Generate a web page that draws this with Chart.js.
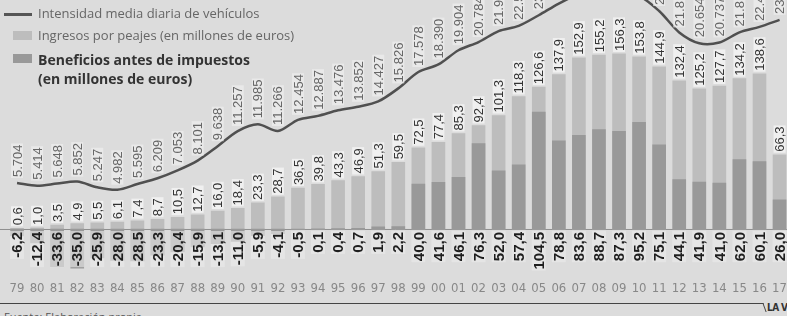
<!DOCTYPE html>
<html>
<head>
<meta charset="utf-8">
<script src="https://cdn.jsdelivr.net/npm/chart.js@4"></script>
<style>
  html, body { margin: 0; padding: 0; width: 787px; height: 316px; overflow: hidden; background: #dcdcdc; }
  #wrap { position: absolute; left: 0; top: 0; width: 791px; height: 300px; }
  .legend { position: absolute; left: 0; top: 0; font-family: "Open Sans", sans-serif; font-size: 13px; color: #666; }
  .legend div { position: absolute; white-space: nowrap; }
  .sw { position: absolute; }
  #footer-line { position: absolute; left: 0; top: 303px; width: 763px; height: 1px; background: #444; }
  #hook { position: absolute; left: 760px; top: 303px; width: 4px; height: 8px; border-top: 1px solid #444; border-right: 1px solid #444; transform: skewX(20deg); }
  #lavoz { position: absolute; left: 767px; top: 302px; font-family: "DejaVu Sans Condensed", sans-serif; font-weight: bold; font-size: 10px; letter-spacing: -0.6px; color: #333; white-space: nowrap; }
  #fuente { position: absolute; left: 4px; top: 309px; font-family: "Open Sans", sans-serif; font-size: 11px; color: #555; white-space: nowrap; }
</style>
</head>
<body>
<div id="wrap"><canvas id="chart"></canvas></div>

<div class="legend">
  <div class="sw" style="left:4px; top:13px; width:28px; height:3px; background:#555;"></div>
  <div style="left:38px; top:4px;">Intensidad media diaria de vehículos</div>
  <div class="sw" style="left:13px; top:31px; width:19px; height:9px; background:#bdbdbd;"></div>
  <div style="left:38px; top:26px;">Ingresos por peajes (en millones de euros)</div>
  <div class="sw" style="left:13px; top:54px; width:19px; height:9px; background:#999;"></div>
  <div style="left:38px; top:50px; font-weight:bold; color:#333; font-size:14px; line-height:19px;">Beneficios antes de impuestos<br>(en millones de euros)</div>
</div>

<div id="footer-line"></div>
<div id="hook"></div>
<div id="lavoz">LA VOZ</div>
<div id="fuente">Fuente: Elaboración propia</div>

<script>
const years = ["79", "80", "81", "82", "83", "84", "85", "86", "87", "88", "89", "90", "91", "92", "93",
    "94", "95", "96", "97", "98", "99", "00", "01", "02", "03", "04", "05", "06", "07", "08", "09",
    "10", "11", "12", "13", "14", "15", "16", "17"];

// intensidad media diaria (vehiculos); 2006-2011 se salen por arriba del recorte, estimados
const intensidad = [5704, 5414, 5648, 5852, 5247, 4982, 5595, 6209, 7053, 8101, 9638, 11257, 11985,
    11266, 12454, 12887, 13476, 13852, 14427, 15826, 17578, 18390, 19904, 20784, 21953, 22512,
    23650, 24900, 25900, 26300, 25900, 25700, 24100, 21812, 20654, 20737, 21812, 22400, 23150];

const ingresos = [0.6, 1.0, 3.5, 4.9, 5.5, 6.1, 7.4, 8.7, 10.5, 12.7, 16.0, 18.4, 23.3, 28.7, 36.5,
    39.8, 43.3, 46.9, 51.3, 59.5, 72.5, 77.4, 85.3, 92.4, 101.3, 118.3, 126.6, 137.9, 152.9, 155.2,
    156.3, 153.8, 144.9, 132.4, 125.2, 127.7, 134.2, 138.6, 66.3];

const beneficios = [-6.2, -12.4, -33.6, -35.0, -25.9, -28.0, -28.5, -23.3, -20.4, -15.9, -13.1, -11.0,
    -5.9, -4.1, -0.5, 0.1, 0.4, 0.7, 1.9, 2.2, 40.0, 41.6, 46.1, 76.3, 52.0, 57.4, 104.5, 78.8, 83.6,
    88.7, 87.3, 95.2, 75.1, 44.1, 41.9, 41.0, 62.0, 60.1, 26.0];

function miles(v) {
    return String(v).replace(/\B(?=(\d{3})+(?!\d))/g, ".");
}
function decimal(v) {
    return v.toFixed(1).replace(".", ",");
}

// texto girado 90 grados, se lee de abajo arriba
function rotatedLabel(ctx, text, x, y, align, font, color, bg) {
    ctx.save();
    ctx.translate(x, y);
    ctx.rotate(-Math.PI / 2);
    ctx.font = font;
    ctx.textAlign = align;
    ctx.textBaseline = "middle";
    const w = ctx.measureText(text).width;
    const h = parseInt(font.match(/(\d+)px/)[1]) - 1;
    if (bg) {
        ctx.fillStyle = bg;
        const left = align === "left" ? -1 : -w - 1;
        ctx.fillRect(left, -h / 2, w + 2, h);
    }
    ctx.fillStyle = color;
    ctx.fillText(text, 0, 1);
    ctx.restore();
}

const labelsPlugin = {
    id: "valueLabels",
    beforeDatasetsDraw(chart) {
        const ctx = chart.ctx;
        const zero = chart.scales.y.getPixelForValue(0);
        ctx.save();
        ctx.strokeStyle = "rgba(110,110,110,0.7)";
        ctx.lineWidth = 1;
        ctx.beginPath();
        ctx.moveTo(0, zero + 0.5);
        ctx.lineTo(chart.width, zero + 0.5);
        ctx.stroke();
        ctx.restore();
    },
    afterDatasetsDraw(chart) {
        const ctx = chart.ctx;
        const zero = chart.scales.y.getPixelForValue(0);
        const lineMeta = chart.getDatasetMeta(0);
        const benMeta = chart.getDatasetMeta(1);
        const ingMeta = chart.getDatasetMeta(2);

        ingMeta.data.forEach((bar, i) => {
            rotatedLabel(ctx, decimal(ingresos[i]), bar.x, bar.y - 3, "left",
                '13px "Liberation Sans", sans-serif', "#333", "rgba(242,242,242,0.9)");
        });
        benMeta.data.forEach((bar, i) => {
            rotatedLabel(ctx, decimal(beneficios[i]), bar.x, zero + 3, "right",
                'bold 15px "Liberation Sans", sans-serif', "#1e1e1e", "rgba(235,235,235,0.6)");
        });
        lineMeta.data.forEach((pt, i) => {
            rotatedLabel(ctx, miles(intensidad[i]), pt.x, pt.y - 6, "left",
                '13px "Liberation Sans", sans-serif', "#666", "rgba(238,238,238,0.7)");
        });
    }
};

const chart = new Chart(document.getElementById("chart"), {
    type: "bar",
    data: {
        labels: years,
        datasets: [
            {
                type: "line",
                label: "Intensidad media diaria de vehículos",
                data: intensidad,
                yAxisID: "y2",
                borderColor: "#505050",
                borderWidth: 2.5,
                pointRadius: 0,
                tension: 0.3,
                order: 0,
            },
            {
                label: "Beneficios antes de impuestos",
                data: beneficios,
                backgroundColor: "#999",
                grouped: false,
                barThickness: 13,
                order: 1,
            },
            {
                label: "Ingresos por peajes",
                data: ingresos,
                backgroundColor: "#bdbdbd",
                grouped: false,
                barThickness: 13,
                order: 2,
            },
        ],
    },
    options: {
        responsive: true,
        maintainAspectRatio: false,
        animation: false,
        layout: { padding: { left: 7, right: 0, top: 0, bottom: 0 } },
        plugins: {
            legend: { display: false },
            tooltip: { enabled: false },
        },
        scales: {
            x: {
                grid: { display: false, drawTicks: false },
                border: { display: false },
                ticks: {
                    color: "#888",
                    font: { family: '"DejaVu Sans Condensed", sans-serif', size: 13 },
                    padding: 4,
                    maxRotation: 0,
                    autoSkip: false,
                },
                afterFit: (scale) => { scale.height = 23; },
            },
            y: {
                display: false,
                min: -42.86,
                max: 204.46,
            },
            y2: {
                display: false,
                min: -4352,
                max: 25280,
            },
        },
    },
    plugins: [labelsPlugin],
});
</script>
</body>
</html>
